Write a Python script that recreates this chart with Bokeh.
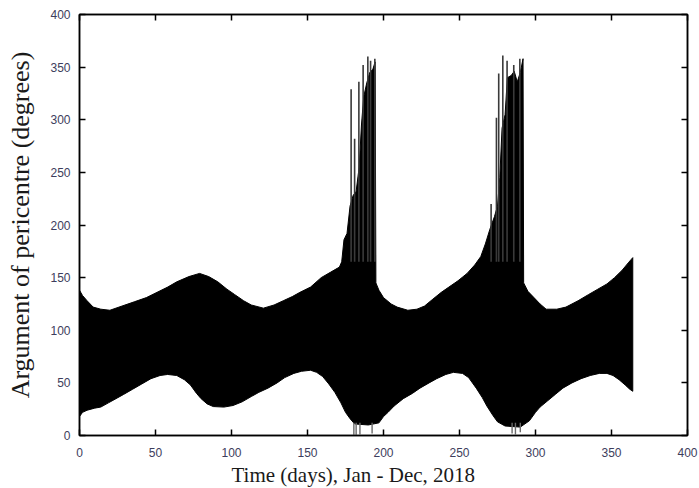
import numpy as np
from bokeh.plotting import figure
from bokeh.models import LinearAxis, Range1d, FixedTicker, Title
from bokeh.embed import file_html
from bokeh.resources import INLINE

# ---- data ----
upper_days = [0, 2, 5, 9, 14, 20, 28, 36, 44, 51, 58, 64, 72, 79, 85, 91, 97, 102, 108, 113,
              121, 128, 134, 140, 145, 152, 159, 165, 171, 172.5, 174, 176, 178, 180, 182, 184,
              185.5, 187, 189, 191, 193, 194.5, 195, 197, 200, 205, 209, 216, 222, 227, 232,
              238, 243, 249, 255, 260, 264, 267, 270, 273, 275, 276.5, 278, 280, 281.5, 284,
              286, 288, 290, 291.8, 292.2, 295, 299, 303, 307, 314, 320, 328, 335, 341, 347,
              352, 357, 361, 364]
upper_vals = [138, 133, 128, 122, 120, 119, 123, 127, 131, 136, 141, 146, 151, 154, 151, 146,
              139, 134, 128, 124, 121, 124, 128, 132, 136, 141, 150, 155, 160, 165, 186, 192,
              218, 228, 232, 255, 295, 322, 335, 345, 348, 355, 145, 138, 131, 125, 122, 119,
              120, 123, 129, 136, 141, 147, 154, 162, 170, 182, 196, 208, 218, 245, 292, 305,
              340, 342, 346, 336, 345, 358, 145, 137, 131, 125, 120, 120, 122, 128, 134, 139,
              144, 150, 157, 164, 169]

lower_days = [0, 2, 5, 10, 14, 19, 24, 29, 35, 41, 47, 53, 58, 64, 69, 73, 77, 80, 84, 88, 95,
              101, 107, 113, 118, 124, 130, 135, 141, 146, 152, 156, 160, 164, 168, 172, 175,
              178, 181, 190, 197, 200, 203, 207, 213, 219, 224, 230, 235, 241, 246, 252, 256,
              261, 265, 268, 272, 275, 280, 290, 296, 300, 303, 308, 313, 318, 324, 330, 336,
              342, 347, 351, 355, 359, 362, 364]
lower_vals = [18, 22, 24, 26, 27, 31, 35, 39, 44, 49, 54, 57, 58, 57, 53, 48, 40, 35, 30, 27.5,
              27, 28.5, 32, 37, 41, 45, 50, 55, 59, 61, 62, 60, 56, 49, 41, 31, 22, 16, 11, 10,
              12, 18, 22, 28, 35, 40, 45, 50, 54, 58, 60, 59, 55, 45, 36, 28, 19, 13, 9, 8, 14,
              22, 27, 33, 39, 45, 50, 54, 57, 59, 59, 57, 53, 48, 44, 42]

spike_up_days = [178.7, 181, 183.8, 186.6, 189.7, 191.5, 194.3,
                 270.8, 274.3, 275.8, 278.5, 281.3, 285.7, 289.7]
spike_up_tops = [329, 282, 336, 352, 360, 356, 358,
                 220, 302, 344, 361, 356, 352, 358]

spike_down_days = [180.5, 182, 184.5, 192.5, 284.6, 286.8, 290]
spike_down_bottoms = [0, 0, 1, 2, 2, 1, 3]

x_ticks = [0, 50, 100, 150, 200, 250, 300, 350, 400]
y_ticks = [0, 50, 100, 150, 200, 250, 300, 350, 400]

x_label = "Time (days), Jan - Dec, 2018"
y_label = "Argument of pericentre (degrees)"

# ---- figure ----
p = figure(width=699, height=488, output_backend="svg", toolbar_location=None,
           x_range=Range1d(0, 400), y_range=Range1d(0, 400),
           min_border_left=79, min_border_right=12, min_border_top=14, min_border_bottom=53,
           x_axis_location=None, y_axis_location=None)
p.grid.visible = False
p.outline_line_color = "black"
p.outline_line_width = 1.5
p.background_fill_color = "white"
p.border_fill_color = "white"

poly_x = np.concatenate([np.array(upper_days, float), np.array(lower_days, float)[::-1]])
poly_y = np.concatenate([np.array(upper_vals, float), np.array(lower_vals, float)[::-1]])
p.patch(poly_x, poly_y, fill_color="black", line_color="black", line_width=1)

p.segment(x0=spike_up_days, y0=[165] * len(spike_up_days), x1=spike_up_days, y1=spike_up_tops,
          line_color="#3a3a3a", line_width=1.6)
p.segment(x0=spike_down_days, y0=spike_down_bottoms, x1=spike_down_days, y1=[12] * len(spike_down_days),
          line_color="#6a6a6a", line_width=1.4)

tick_font = "Liberation Sans"
tick_color = "#3d3d5c"


def style(ax, ticks, labels=True):
    ax.ticker = FixedTicker(ticks=ticks)
    ax.minor_tick_line_color = None
    ax.major_tick_in = 6
    ax.major_tick_out = 0
    ax.major_tick_line_color = "black"
    ax.major_tick_line_width = 1.5
    ax.axis_line_color = "black"
    ax.axis_line_width = 1.5
    if labels:
        ax.major_label_text_font = tick_font
        ax.major_label_text_font_size = "12px"
        ax.major_label_text_color = tick_color
    else:
        ax.major_label_text_font_size = "1px"
        ax.major_label_text_color = None
        ax.major_label_standoff = 0


xb = LinearAxis()
style(xb, x_ticks)
xb.major_label_standoff = 12
p.add_layout(xb, "below")

yl = LinearAxis(axis_label=y_label)
style(yl, y_ticks)
yl.major_label_standoff = 9
yl.axis_label_text_font = "Liberation Serif"
yl.axis_label_text_font_style = "normal"
yl.axis_label_text_font_size = "26px"
yl.axis_label_text_color = "#1a1a1a"
yl.axis_label_standoff = 12
p.add_layout(yl, "left")

xt = LinearAxis()
style(xt, x_ticks, labels=False)
p.add_layout(xt, "above")

yr = LinearAxis()
style(yr, y_ticks, labels=False)
p.add_layout(yr, "right")

xt_title = Title(text=x_label, align="left", offset=152, standoff=3,
                 text_font="Liberation Serif", text_font_size="21px",
                 text_font_style="normal", text_color="#1a1a1a")
p.add_layout(xt_title, "below")

open("out.html", "w").write(file_html(p, INLINE))
